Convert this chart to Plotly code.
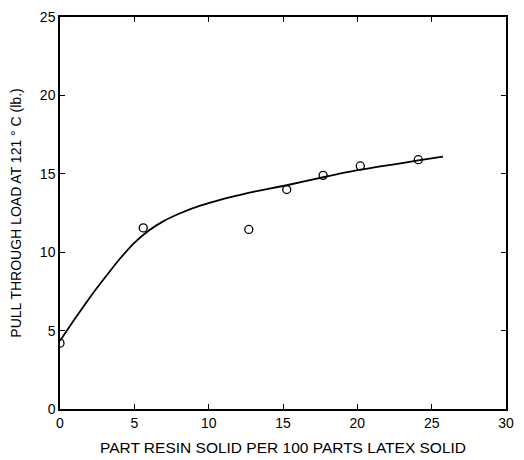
import plotly.graph_objects as go

# Measured data points
resin = [0, 5.6, 12.7, 15.25, 17.7, 20.2, 24.1]
load = [4.2, 11.55, 11.45, 14.0, 14.9, 15.5, 15.9]

# Fitted curve
curve_x = [0, 1, 2, 3, 4, 5, 6, 7, 8, 9, 10, 11, 12, 13, 14, 15.25, 17.7, 20.2, 24.1, 25.76]
curve_y = [4.35, 5.75, 7.1, 8.35, 9.55, 10.6, 11.4, 12.0, 12.45, 12.83, 13.13, 13.4, 13.63,
           13.85, 14.04, 14.27, 14.78, 15.26, 15.85, 16.1]

x_ticks = [0, 5, 10, 15, 20, 25, 30]
y_ticks = [0, 5, 10, 15, 20, 25]

FONT = "Liberation Sans, Arial, sans-serif"

fig = go.Figure()
fig.add_trace(go.Scatter(x=curve_x, y=curve_y, mode="lines",
                         line=dict(color="black", width=1.8, shape="spline", smoothing=0.6),
                         showlegend=False, hoverinfo="skip"))
fig.add_trace(go.Scatter(x=resin, y=load, mode="markers",
                         marker=dict(symbol="circle-open", size=8, color="black",
                                     line=dict(width=1.3, color="black")),
                         showlegend=False))

axis_common = dict(showgrid=False, zeroline=False, showline=True, linecolor="black",
                   linewidth=1.5, mirror="ticks", ticks="inside", ticklen=5,
                   tickwidth=1.2, tickcolor="black", automargin=False,
                   ticklabeloverflow="allow",
                   tickfont=dict(family=FONT, size=14, color="black"))

fig.update_xaxes(range=[0, 30], tickvals=x_ticks, ticktext=[str(v) for v in x_ticks],
                 title=dict(text="PART RESIN SOLID PER 100 PARTS LATEX SOLID",
                            font=dict(family=FONT, size=15.5, color="black"), standoff=13),
                 **axis_common)
fig.update_yaxes(range=[0, 25], tickvals=y_ticks, ticktext=[str(v) for v in y_ticks],
                 title=dict(text="PULL THROUGH LOAD AT 121 ° C (lb.)",
                            font=dict(family=FONT, size=14, color="black"), standoff=20),
                 **axis_common)

# page body has an 8px margin, so the figure is sized to fit the 524x460 window
fig.update_layout(width=516, height=452, margin=dict(l=52, r=18, t=9, b=51),
                  paper_bgcolor="white", plot_bgcolor="white")

fig.write_html("out.html")
